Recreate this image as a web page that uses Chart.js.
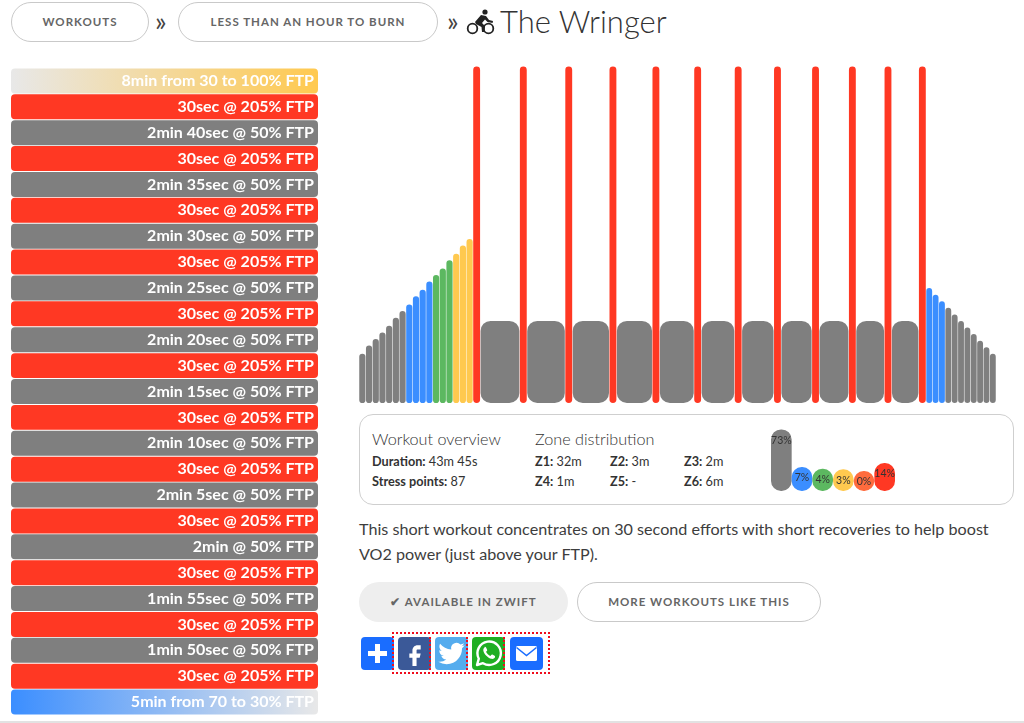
<!DOCTYPE html>
<html>
<head>
<meta charset="utf-8">
<title>The Wringer</title>
<script src="https://cdn.jsdelivr.net/npm/chart.js@4/dist/chart.umd.min.js"></script>
<style>
    html, body { margin: 0; padding: 0; background: #fff; }
    body { width: 1024px; height: 723px; position: relative; overflow: hidden; font-family: Lato, sans-serif; color: #444; }
    .abs { position: absolute; white-space: nowrap; }
    canvas { position: absolute; display: block; }
    .pill { position: absolute; box-sizing: border-box; border: 1px solid #c9c9c9; border-radius: 20px; text-align: center; font-size: 11.5px; font-weight: 700; letter-spacing: 1px; color: #666; }
    .overview { left: 359px; top: 414px; width: 655px; height: 91px; box-sizing: border-box; border: 1.5px solid #cfcfcf; border-radius: 14px; }
    .heading { font-size: 16.2px; font-weight: 300; color: #333; line-height: 20px; }
    .stat { font-size: 12.7px; color: #333; line-height: 16px; }
    .stat b { font-weight: 700; }
    .share { position: absolute; top: 637px; width: 33px; height: 33px; border-radius: 4px; }
    .share svg { display: block; width: 33px; height: 33px; }
    .dots { position: absolute; border-left: 2px dotted #f00c1c; top: 637px; height: 33px; width: 0; }
</style>
</head>
<body>

<div class="pill" style="left:11px;top:2px;width:138px;height:40px;line-height:38px">WORKOUTS</div>
<div class="abs" style="left:155px;top:7px;font-size:27px;line-height:28px;color:#444">»</div>
<div class="pill" style="left:178px;top:2px;width:260px;height:40px;line-height:38px">LESS THAN AN HOUR TO BURN</div>
<div class="abs" style="left:447px;top:7px;font-size:27px;line-height:28px;color:#444">»</div>
<svg class="abs" style="left:466px;top:9px" width="29" height="26" viewBox="0 0 29 26">
    <circle cx="6.5" cy="19.5" r="4.8" fill="none" stroke="#222" stroke-width="1.8"/>
    <circle cx="22.5" cy="19.5" r="4.8" fill="none" stroke="#222" stroke-width="1.8"/>
    <circle cx="19" cy="3" r="2.6" fill="#222"/>
    <path d="M9 13 L15 6 L20 7 L23 11 L27 12 L26.6 14 L21.5 13 L19 10.5 L16 14 L19 17 L18.5 23 L16 23 L15.5 18 L10 15 Z" fill="#222"/>
</svg>
<div class="abs" style="left:500px;top:0;font-size:31px;font-weight:300;line-height:42px;color:#333">The Wringer</div>

<canvas id="stepList"></canvas>
<canvas id="powerProfile"></canvas>

<div class="abs overview"></div>
<div class="abs heading" style="left:372px;top:429px">Workout overview</div>
<div class="abs heading" style="left:535px;top:429px">Zone distribution</div>
<div class="abs stat" style="left:372px;top:453px"><b>Duration:</b> 43m 45s</div>
<div class="abs stat" style="left:372px;top:473px"><b>Stress points:</b> 87</div>
<div class="abs stat" style="left:535px;top:453px"><b>Z1:</b> 32m</div>
<div class="abs stat" style="left:610px;top:453px"><b>Z2:</b> 3m</div>
<div class="abs stat" style="left:684px;top:453px"><b>Z3:</b> 2m</div>
<div class="abs stat" style="left:535px;top:473px"><b>Z4:</b> 1m</div>
<div class="abs stat" style="left:610px;top:473px"><b>Z5:</b> -</div>
<div class="abs stat" style="left:684px;top:473px"><b>Z6:</b> 6m</div>
<canvas id="zoneShare"></canvas>

<div class="abs" style="left:359px;top:516px;font-size:16.15px;line-height:25px;color:#3d3d3d">This short workout concentrates on 30 second efforts with short recoveries to help boost<br>VO2 power (just above your FTP).</div>

<div class="pill" style="left:359px;top:582px;width:209px;height:40px;line-height:40px;background:#eee;border:0">✔ AVAILABLE IN ZWIFT</div>
<div class="pill" style="left:577px;top:582px;width:244px;height:40px;line-height:38px">MORE WORKOUTS LIKE THIS</div>

<div class="share" style="left:361px;background:#1a6dff">
    <svg viewBox="0 0 33 33"><path d="M14 7h5v7h7v5h-7v7h-5v-7H7v-5h7z" fill="#fff"/></svg>
</div>
<div class="share" style="left:398px;background:#3b5998">
    <svg viewBox="-4 -4 32 32"><path d="M15 8h3V4h-3c-2.8 0-5 2.2-5 5v3H7v4h3v8h4v-8h3l1-4h-4V9c0-.6.4-1 1-1z" fill="#fff"/></svg>
</div>
<div class="share" style="left:435px;background:#55acee">
    <svg viewBox="-3 -3 30 30"><path d="M23.953 4.57a10 10 0 01-2.825.775 4.958 4.958 0 002.163-2.723c-.951.555-2.005.959-3.127 1.184a4.92 4.92 0 00-8.384 4.482C7.69 8.095 4.067 6.13 1.64 3.162a4.822 4.822 0 00-.666 2.475c0 1.71.87 3.213 2.188 4.096a4.904 4.904 0 01-2.228-.616v.06a4.923 4.923 0 003.946 4.827 4.996 4.996 0 01-2.212.085 4.936 4.936 0 004.604 3.417 9.867 9.867 0 01-6.102 2.105c-.39 0-.779-.023-1.17-.067a13.995 13.995 0 007.557 2.209c9.053 0 13.998-7.496 13.998-13.985 0-.21 0-.42-.015-.63A9.935 9.935 0 0024 4.59z" fill="#fff"/></svg>
</div>
<div class="share" style="left:472px;background:#1fae22">
    <svg viewBox="0 0 33 33">
        <path d="M5 28l1.8-6.3A11.7 11.7 0 1 1 11 26.2z" fill="none" stroke="#fff" stroke-width="2.4" stroke-linejoin="round"/>
        <path d="M12.6 10.5c-.8.5-1.6 1.8-1.2 3.4.8 3.3 4.4 7 8 7.9 1.6.4 3-.5 3.5-1.4.3-.6.2-1.3-.3-1.6l-2.2-1.2c-.5-.2-.9 0-1.2.4l-.8 1c-1.8-.6-3.6-2.4-4.4-4.2l.9-.9c.3-.3.4-.7.2-1.2l-1-2.2c-.4-.6-1.1-.8-1.5-.5z" fill="#fff"/>
    </svg>
</div>
<div class="share" style="left:510px;background:#1a6dff">
    <svg viewBox="0 0 33 33">
        <rect x="6" y="9" width="21" height="15" rx="1.5" fill="#fff"/>
        <path d="M6.5 10.5l10 8 10-8" fill="none" stroke="#1a6dff" stroke-width="1.6"/>
    </svg>
</div>
<div class="abs" style="left:392px;top:632px;width:154px;height:38px;border:2px dotted #f00c1c"></div>
<div class="dots" style="left:429px"></div>
<div class="dots" style="left:466px"></div>
<div class="dots" style="left:503px"></div>

<div class="abs" style="left:0;top:721px;width:1024px;height:2px;background:#e2e2e2"></div>

<script>
// zone colours, shared by the step list and the power profile
const grey = '#7f7f7f';
const blue = '#3b8eff';
const green = '#5cb860';
const yellow = '#ffc94f';
const orange = '#ff6b3d';
const red = '#ff3823';
const fade = '#e8e8e8';

const stepLabels = [
    '8min from 30 to 100% FTP',
    '30sec @ 205% FTP', '2min 40sec @ 50% FTP',
    '30sec @ 205% FTP', '2min 35sec @ 50% FTP',
    '30sec @ 205% FTP', '2min 30sec @ 50% FTP',
    '30sec @ 205% FTP', '2min 25sec @ 50% FTP',
    '30sec @ 205% FTP', '2min 20sec @ 50% FTP',
    '30sec @ 205% FTP', '2min 15sec @ 50% FTP',
    '30sec @ 205% FTP', '2min 10sec @ 50% FTP',
    '30sec @ 205% FTP', '2min 5sec @ 50% FTP',
    '30sec @ 205% FTP', '2min @ 50% FTP',
    '30sec @ 205% FTP', '1min 55sec @ 50% FTP',
    '30sec @ 205% FTP', '1min 50sec @ 50% FTP',
    '30sec @ 205% FTP',
    '5min from 70 to 30% FTP'
];
const stepPower = [100, 205, 50, 205, 50, 205, 50, 205, 50, 205, 50, 205, 50, 205, 50, 205, 50, 205, 50, 205, 50, 205, 50, 205, 70];

// power profile: width of each block on the time axis and its height in % FTP
const blockSeconds = [
    27.3, 27.3, 27.3, 27.3, 27.3, 27.3, 27.3, 27.3, 27.3, 27.3, 27.3, 27.3, 27.3, 27.3, 27.3, 27.3, 27.3,
    30, 160, 30, 155, 30, 150, 30, 145, 30, 140, 30, 135, 30, 130, 30, 125, 30, 120, 30, 115, 30, 110, 30,
    25.9, 25.9, 25.9, 25.9, 25.9, 25.9, 25.9, 25.9, 25.9, 25.9, 25.9
];
const blockPower = [
    30, 35, 39, 43, 47, 52, 56, 60, 65, 69, 74, 78, 82, 87, 91, 96, 100,
    205, 50, 205, 50, 205, 50, 205, 50, 205, 50, 205, 50, 205, 50, 205, 50, 205, 50, 205, 50, 205, 50, 205,
    70, 66, 62, 58, 54, 50, 46, 42, 38, 34, 30
];

const zoneNames = ['Z1', 'Z2', 'Z3', 'Z4', 'Z5', 'Z6'];
const zonePercent = [73, 7, 4, 3, 0, 14];
const zoneColors = [grey, blue, green, yellow, orange, red];

function powerColor(power) {
    if (power < 60) return grey;
    if (power < 75) return blue;
    if (power < 90) return green;
    if (power < 105) return yellow;
    return red;
}

function place(id, left, top, width, height) {
    let canvas = document.getElementById(id);
    canvas.style.left = left + 'px';
    canvas.style.top = top + 'px';
    canvas.style.width = width + 'px';
    canvas.style.height = height + 'px';
    canvas.width = width;
    canvas.height = height;
    return canvas.getContext('2d');
}

// first and last rows are ramps, so they get a gradient instead of a flat colour
function stepFill(context) {
    let area = context.chart.chartArea;
    let i = context.dataIndex;
    if (!area) return grey;
    if (i === 0 || i === stepLabels.length - 1) {
        let gradient = context.chart.ctx.createLinearGradient(area.left, 0, area.right, 0);
        gradient.addColorStop(0, i === 0 ? fade : blue);
        gradient.addColorStop(1, i === 0 ? yellow : fade);
        return gradient;
    }
    return powerColor(stepPower[i]);
}

new Chart(place('stepList', 11, 68, 307, 647), {
    type: 'bar',
    data: {
        labels: stepLabels,
        datasets: [{
            data: stepLabels.map(() => 1),
            backgroundColor: stepFill,
            borderRadius: 4,
            borderSkipped: false,
            inflateAmount: 0,
            categoryPercentage: 1,
            barPercentage: 0.965
        }]
    },
    options: {
        indexAxis: 'y',
        responsive: false,
        animation: false,
        plugins: { legend: { display: false }, tooltip: { enabled: false } },
        scales: {
            x: { display: false, min: 0, max: 1 },
            y: {
                position: 'right',
                grid: { display: false },
                border: { display: false },
                // labels sit inside the bars, so the axis takes no room of its own
                afterFit: scale => {
                    scale.width = 0;
                    scale.paddingTop = 0;
                    scale.paddingBottom = 0;
                },
                ticks: {
                    mirror: true,
                    z: 1,
                    padding: -4,
                    autoSkip: false,
                    color: '#fff',
                    font: { family: 'Lato', size: 16, weight: 700 }
                }
            }
        }
    }
});

// one dataset per block, since bar width is a dataset level setting
const profileWidth = 637;
const totalSeconds = blockSeconds.reduce((sum, s) => sum + s, 0);
let elapsed = 0;
let blocks = blockSeconds.map((seconds, i) => {
    let middle = elapsed + seconds / 2;
    elapsed += seconds;
    return {
        data: [{ x: middle, y: blockPower[i] }],
        backgroundColor: powerColor(blockPower[i]),
        barThickness: seconds / totalSeconds * profileWidth - 0.5,
        grouped: false,
        borderRadius: 10,
        borderSkipped: false,
        inflateAmount: 0,
        order: blockPower[i] > 200 ? 0 : 1
    };
});

new Chart(place('powerProfile', 359, 60, profileWidth, 343), {
    type: 'bar',
    data: { datasets: blocks },
    options: {
        responsive: false,
        animation: false,
        plugins: { legend: { display: false }, tooltip: { enabled: false } },
        scales: {
            x: { type: 'linear', display: false, offset: false, min: 0, max: totalSeconds },
            y: { display: false, min: 0, max: 209 }
        }
    }
});

// writes the share on each pill, just under its rounded top
const pillLabels = {
    id: 'pillLabels',
    afterDatasetsDraw(chart) {
        let ctx = chart.ctx;
        ctx.save();
        ctx.font = '10.5px Lato';
        ctx.fillStyle = '#333';
        ctx.textAlign = 'center';
        ctx.textBaseline = 'middle';
        chart.getDatasetMeta(0).data.forEach((bar, i) => {
            ctx.fillText(zonePercent[i] + '%', bar.x, bar.y + 11);
        });
        ctx.restore();
    }
};

new Chart(place('zoneShare', 771, 425, 124, 66), {
    type: 'bar',
    data: {
        labels: zoneNames,
        datasets: [{
            data: zonePercent,
            base: -35,
            backgroundColor: zoneColors,
            borderRadius: 10,
            borderSkipped: false,
            inflateAmount: 0,
            categoryPercentage: 1,
            barPercentage: 1
        }]
    },
    options: {
        responsive: false,
        animation: false,
        plugins: { legend: { display: false }, tooltip: { enabled: false } },
        scales: {
            x: { display: false },
            y: { display: false, min: -35, max: 80.8 }
        }
    },
    plugins: [pillLabels]
});
</script>
</body>
</html>
